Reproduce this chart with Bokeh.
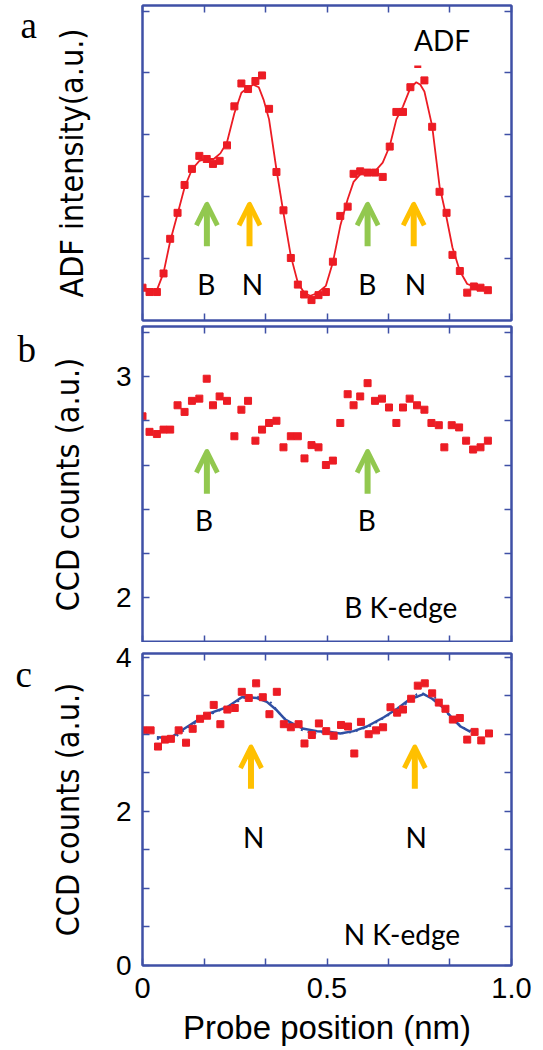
from bokeh.plotting import figure
from bokeh.models import (ColumnDataSource, FixedTicker, LinearAxis, Range1d,
                          Arrow, OpenHead)
from bokeh.layouts import column, row
from bokeh.embed import file_html
from bokeh.resources import INLINE
from bokeh.core.properties import value

# ---------------- data ----------------
# panel a : ADF intensity
adf_x = [0.000, 0.019, 0.039, 0.057, 0.075, 0.095, 0.114, 0.134, 0.154, 0.174,
         0.191, 0.209, 0.229, 0.249, 0.268, 0.286, 0.306, 0.324, 0.343, 0.363,
         0.382, 0.402, 0.421, 0.438, 0.458, 0.477, 0.497, 0.516, 0.536, 0.556,
         0.572, 0.590, 0.610, 0.630, 0.651, 0.670, 0.688, 0.706, 0.726, 0.764,
         0.785, 0.805, 0.824, 0.840, 0.860, 0.880, 0.898, 0.916, 0.936]
adf_y = [0.53, 0.46, 0.46, 0.76, 1.32, 1.74, 2.19, 2.45, 2.66, 2.61,
         2.53, 2.58, 2.83, 3.46, 3.83, 3.74, 3.87, 3.96, 3.42, 2.40,
         1.78, 1.01, 0.58, 0.42, 0.33, 0.41, 0.46, 0.95, 1.69, 1.84,
         2.37, 2.41, 2.39, 2.39, 2.32, 2.81, 3.37, 3.37, 3.77, 3.88,
         3.13, 2.08, 1.74, 1.06, 0.80, 0.45, 0.55, 0.53, 0.49]
adf_dash_x = [0.746]
adf_dash_y = [4.10]
adf_fit_x = [0.000, 0.019, 0.039, 0.057, 0.075, 0.095, 0.114, 0.134, 0.154, 0.174,
             0.193, 0.211, 0.229, 0.249, 0.268, 0.287, 0.301, 0.315, 0.328, 0.343,
             0.363, 0.382, 0.402, 0.421, 0.439, 0.455, 0.473, 0.497, 0.516, 0.536,
             0.556, 0.572, 0.590, 0.610, 0.630, 0.651, 0.670, 0.688, 0.706, 0.726,
             0.742, 0.753, 0.764, 0.785, 0.805, 0.824, 0.840, 0.860, 0.880, 0.898]
adf_fit_y = [0.55, 0.48, 0.49, 0.77, 1.28, 1.72, 2.15, 2.44, 2.58, 2.61,
             2.61, 2.70, 2.88, 3.35, 3.68, 3.77, 3.81, 3.77, 3.57, 3.25,
             2.44, 1.74, 1.04, 0.61, 0.44, 0.40, 0.44, 0.56, 0.94, 1.53,
             1.96, 2.24, 2.36, 2.40, 2.41, 2.55, 2.82, 3.25, 3.46, 3.76,
             3.85, 3.81, 3.70, 3.14, 2.17, 1.66, 1.18, 0.80, 0.59, 0.55]

# panel b : B K-edge
bk_x = [0.000, 0.019, 0.039, 0.057, 0.075, 0.095, 0.114, 0.134, 0.154, 0.174,
        0.191, 0.209, 0.229, 0.249, 0.268, 0.286, 0.306, 0.324, 0.343, 0.363,
        0.382, 0.402, 0.421, 0.439, 0.458, 0.477, 0.497, 0.516, 0.536, 0.556,
        0.572, 0.590, 0.610, 0.630, 0.649, 0.668, 0.688, 0.706, 0.724, 0.744,
        0.764, 0.783, 0.803, 0.818, 0.838, 0.858, 0.877, 0.896, 0.916, 0.936]
bk_y = [2.82, 2.75, 2.74, 2.76, 2.76, 2.87, 2.84, 2.89, 2.90, 2.99,
        2.87, 2.91, 2.89, 2.73, 2.85, 2.89, 2.71, 2.76, 2.79, 2.80,
        2.68, 2.73, 2.73, 2.63, 2.69, 2.68, 2.60, 2.62, 2.79, 2.92,
        2.87, 2.91, 2.97, 2.89, 2.90, 2.86, 2.79, 2.86, 2.90, 2.87,
        2.85, 2.79, 2.78, 2.68, 2.78, 2.77, 2.71, 2.67, 2.68, 2.71]

# panel c : N K-edge
nk_x = [0.003, 0.022, 0.042, 0.061, 0.077, 0.098, 0.118, 0.136, 0.156, 0.175,
        0.193, 0.211, 0.230, 0.250, 0.269, 0.288, 0.308, 0.326, 0.344, 0.364,
        0.383, 0.402, 0.423, 0.439, 0.459, 0.478, 0.498, 0.518, 0.538, 0.557,
        0.574, 0.592, 0.613, 0.633, 0.652, 0.672, 0.690, 0.706, 0.728, 0.746,
        0.765, 0.785, 0.803, 0.821, 0.841, 0.860, 0.880, 0.900, 0.918, 0.939]
nk_y = [3.05, 3.05, 2.84, 2.93, 2.94, 3.05, 2.89, 3.07, 3.20, 3.24,
        3.38, 3.13, 3.32, 3.34, 3.55, 3.47, 3.66, 3.48, 3.26, 3.55,
        3.13, 3.09, 3.13, 2.88, 2.99, 3.14, 3.04, 2.98, 3.12, 3.10,
        2.75, 3.16, 3.00, 3.05, 3.09, 3.35, 3.28, 3.32, 3.46, 3.63,
        3.66, 3.53, 3.41, 3.33, 3.19, 3.21, 2.93, 3.03, 2.92, 3.01]
nk_fit_x = [0.039, 0.075, 0.116, 0.175, 0.229, 0.269, 0.290, 0.310, 0.337, 0.364,
            0.387, 0.410, 0.437, 0.473, 0.509, 0.536, 0.572, 0.608, 0.654, 0.690,
            0.726, 0.746, 0.762, 0.785, 0.816, 0.839, 0.862, 0.889]
nk_fit_y = [2.96, 2.95, 3.08, 3.26, 3.35, 3.48, 3.48, 3.47, 3.42, 3.31,
            3.19, 3.13, 3.07, 3.04, 3.03, 3.01, 3.04, 3.10, 3.22, 3.33,
            3.46, 3.49, 3.52, 3.46, 3.34, 3.21, 3.10, 3.03]
nk_dot_x = [0.039, 0.079, 0.120, 0.175, 0.229, 0.274, 0.310, 0.346, 0.373, 0.401,
            0.428, 0.464, 0.500, 0.536, 0.572, 0.618, 0.664, 0.708, 0.744, 0.767,
            0.785, 0.816, 0.843, 0.871, 0.893]
nk_dot_y = [2.94, 2.93, 3.08, 3.24, 3.35, 3.47, 3.49, 3.42, 3.26, 3.13,
            3.06, 3.01, 3.03, 3.01, 3.03, 3.11, 3.24, 3.37, 3.52, 3.53,
            3.52, 3.33, 3.18, 3.08, 3.04]

# arrows and annotations
a_green_x = [0.1745, 0.610]
a_yellow_x = [0.290, 0.735]
a_arrow_y = [1.20, 1.876]
b_green_x = [0.1745, 0.610]
b_arrow_y = [2.47, 2.661]
c_yellow_x = [0.294, 0.738]
c_arrow_y = [2.293, 2.833]

a_text = ["B", "N", "B", "N", "ADF"]
a_text_x = [0.173, 0.298, 0.609, 0.740, 0.812]
a_text_y = [0.585, 0.585, 0.585, 0.585, 4.54]
b_text = ["B", "B", "B K-edge"]
b_text_x = [0.167, 0.608, 0.700]
b_text_y = [2.35, 2.35, 1.957]
c_text = ["N", "N", "N K-edge"]
c_text_x = [0.301, 0.742, 0.703]
c_text_y = [1.665, 1.665, 0.411]

# panel letters, drawn in a narrow strip left of each panel (x in 0..1 of strip)
panel_letters = ["a", "b", "c"]
letter_x = [0.50, 0.425, 0.375]
letter_y = [4.77, 3.122, 3.776]

x_major = [0, 0.5, 1.0]
x_minor = [0.1667, 0.3333, 0.6667, 0.8333]
x_all = [0, 0.1667, 0.3333, 0.5, 0.6667, 0.8333, 1.0]
x_labels = {0: "0", 0.5: "0.5", 1: "1.0"}
ya_all = [1, 2, 3, 4, 5]
yb_major = [2, 3]
yb_minor = [1.8, 2.2, 2.4, 2.6, 2.8, 3.2]
yb_all = [1.8, 2.0, 2.2, 2.4, 2.6, 2.8, 3.0, 3.2]
yc_major = [0, 2, 4]
yc_minor = [0.5, 1.0, 1.5, 2.5, 3.0, 3.5]
yc_all = [0, 0.5, 1.0, 1.5, 2.0, 2.5, 3.0, 3.5, 4.0]

# ---------------- styling ----------------
FRAME = "#3f50a6"
RED = "#ec1c24"
BLUE = "#2f4fa3"
GREEN = "#92c84f"
YELLOW = "#ffc000"
TICK_FONT = "Liberation Sans"
AXIS_FONT = "DejaVu Sans Condensed"
ANN_FONT = "Lato"
STRIP_W = 40


def style_axis(ax):
    ax.axis_line_color = FRAME
    ax.axis_line_width = 2
    ax.major_tick_in = 7
    ax.major_tick_out = 0
    ax.minor_tick_in = 7
    ax.minor_tick_out = 0
    ax.major_tick_line_color = FRAME
    ax.minor_tick_line_color = FRAME
    ax.major_tick_line_width = 1.5
    ax.minor_tick_line_width = 1.5
    ax.major_label_text_font = TICK_FONT
    ax.major_label_text_font_size = "28px"
    ax.major_label_text_color = "black"
    ax.axis_label_text_color = "black"


def make_panel(yr, frame_h, top, bottom, y_label_ticker, y_all, xshow, ylabel,
               ylab_standoff, yshow):
    p = figure(frame_width=369, frame_height=frame_h,
               x_range=Range1d(0, 1), y_range=Range1d(*yr),
               x_axis_location=None, y_axis_location=None,
               output_backend="svg", toolbar_location=None,
               min_border_left=142 - STRIP_W, min_border_right=32,
               min_border_top=top, min_border_bottom=bottom)
    p.outline_line_color = FRAME
    p.outline_line_width = 2
    p.background_fill_color = "white"
    p.border_fill_color = "white"
    for loc in ("below", "above"):
        if xshow and loc == "below":
            ax = LinearAxis(ticker=FixedTicker(ticks=x_major, minor_ticks=x_minor))
            style_axis(ax)
            ax.major_label_text_font_size = "29px"
            ax.major_label_overrides = x_labels
            ax.major_label_standoff = 12
            ax.axis_label = "Probe position (nm)"
            ax.axis_label_text_font = TICK_FONT
            ax.axis_label_text_font_size = "33px"
            ax.axis_label_text_font_style = "normal"
            ax.axis_label_standoff = 8
        else:
            ax = LinearAxis(ticker=FixedTicker(ticks=[], minor_ticks=x_all))
            style_axis(ax)
            ax.major_label_standoff = 0
        p.add_layout(ax, loc)
    for loc in ("left", "right"):
        if loc == "left" and yshow:
            ax = LinearAxis(ticker=y_label_ticker)
            style_axis(ax)
            ax.major_label_standoff = 11
        else:
            ax = LinearAxis(ticker=FixedTicker(ticks=[], minor_ticks=y_all))
            style_axis(ax)
            ax.major_label_standoff = 0
        if loc == "left":
            ax.axis_label = ylabel
            ax.axis_label_text_font = AXIS_FONT
            ax.axis_label_text_font_size = "32px"
            ax.axis_label_text_font_style = "normal"
            ax.axis_label_standoff = ylab_standoff
        p.add_layout(ax, loc)
    p.grid.visible = False
    return p


def make_strip(yr, frame_h, top, bottom, i):
    s = figure(frame_width=STRIP_W, frame_height=frame_h,
               x_range=Range1d(0, 1), y_range=Range1d(*yr),
               x_axis_location=None, y_axis_location=None,
               output_backend="svg", toolbar_location=None,
               min_border_left=0, min_border_right=0,
               min_border_top=top, min_border_bottom=bottom)
    s.outline_line_color = None
    s.grid.visible = False
    s.text(x=[letter_x[i]], y=[letter_y[i]], text=[panel_letters[i]],
           text_font=value("Liberation Serif"), text_font_size="37px",
           text_align="left", text_baseline="alphabetic", text_color="black")
    return s


def add_arrows(p, xs, ys, color):
    src = ColumnDataSource(dict(x=xs, y0=[ys[0]] * len(xs), y1=[ys[1]] * len(xs)))
    p.add_layout(Arrow(end=OpenHead(line_color=color, line_width=5, size=21,
                                    line_join="round"),
                       x_start="x", y_start="y0", x_end="x", y_end="y1",
                       source=src, line_color=color, line_width=6))


def add_texts(p, xs, ys, texts):
    p.text(x=xs, y=ys, text=texts, text_font=value(ANN_FONT),
           text_font_size="28px", text_align="center",
           text_baseline="middle", text_color="black")


# panel a
ya = (0.0, 5.09)
pa = make_panel(ya, 315, 5, 3, None, ya_all, False,
                "ADF intensity(a.u.)", 52, False)
pa.line(adf_fit_x, adf_fit_y, line_color=RED, line_width=1.8)
pa.scatter(adf_x, adf_y, marker="square", size=7, fill_color=RED, line_color=RED)
pa.scatter(adf_dash_x, adf_dash_y, marker="dash", size=7, line_color=RED, line_width=2.5)
add_arrows(pa, a_green_x, a_arrow_y, GREEN)
add_arrows(pa, a_yellow_x, a_arrow_y, YELLOW)
add_texts(pa, a_text_x, a_text_y, a_text)
sa = make_strip(ya, 315, 5, 3, 0)

# panel b
yb = (1.798, 3.226)
pb = make_panel(yb, 316, 3, 0,
                FixedTicker(ticks=yb_major, minor_ticks=yb_minor), yb_all, False,
                "CCD counts (a.u.)", 26, True)
pb.scatter(bk_x, bk_y, marker="square", size=7, fill_color=RED, line_color=RED)
add_arrows(pb, b_green_x, b_arrow_y, GREEN)
add_texts(pb, b_text_x, b_text_y, b_text)
sb = make_strip(yb, 316, 3, 0, 1)

# panel c
yc = (0.0, 4.047)
pc = make_panel(yc, 312, 11, 85,
                FixedTicker(ticks=yc_major, minor_ticks=yc_minor), yc_all, True,
                "CCD counts (a.u.)", 26, True)
pc.line(nk_dot_x, nk_dot_y, line_color=BLUE, line_width=2, line_dash="2 5")
pc.line(nk_fit_x, nk_fit_y, line_color=BLUE, line_width=2.5)
pc.scatter(nk_x, nk_y, marker="square", size=7, fill_color=RED, line_color=RED)
add_arrows(pc, c_yellow_x, c_arrow_y, YELLOW)
add_texts(pc, c_text_x, c_text_y, c_text)
sc = make_strip(yc, 312, 11, 85, 2)

layout = column(row(sa, pa, spacing=0), row(sb, pb, spacing=0),
                row(sc, pc, spacing=0), spacing=0)
open("out.html", "w").write(file_html(layout, INLINE))
